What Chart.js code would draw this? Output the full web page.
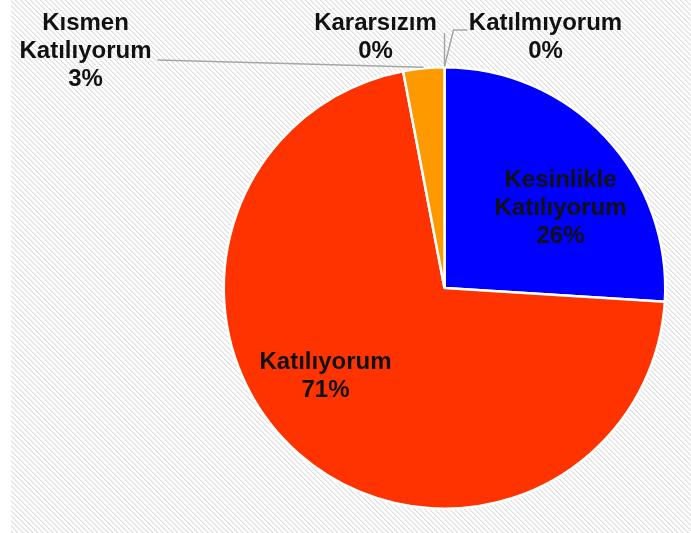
<!DOCTYPE html>
<html>
<head>
<meta charset="utf-8">
<script src="https://cdn.jsdelivr.net/npm/chart.js@4/dist/chart.umd.min.js"></script>
<style>
  html, body { margin: 0; padding: 0; background: #fff; }
  #wrap { width: 691px; height: 533px; }
</style>
</head>
<body>
<div id="wrap"><canvas id="c" width="691" height="533"></canvas></div>
<script>
// veriler
const categories = ["Kesinlikle Katılıyorum", "Katılıyorum", "Kısmen Katılıyorum", "Kararsızım", "Katılmıyorum"];
const percentages = [26, 71, 3, 0, 0];

const sliceColors = ["#0000ff", "#ff3300", "#ff9900", "#9999ff", "#993366"];

// etiket yerleşimi: pasta merkezine göre (dx, dy) = metin bloğunun ortası
const labelOffsets = [
  [116, -80],
  [-119, 88],
  [-359, -237],
  [-69, -251],
  [101, -251],
];
// küçük dilimler için kılavuz çizgileri (merkeze göre başlangıç noktaları)
const leaderStarts = [
  null,
  null,
  [[-287, -228]],
  [[0, -255]],
  [[23, -258], [9, -258]],
];

function makeHatch() {
  const p = 5;
  const c = document.createElement("canvas");
  c.width = p; c.height = p;
  const g = c.getContext("2d");
  const img = g.createImageData(p, p);
  for (let y = 0; y < p; y++) {
    for (let x = 0; x < p; x++) {
      const k = (((x - y) % p) + p) % p;
      const v = k === 0 ? 222 : (k === 1 ? 238 : 255);
      const i = (y * p + x) * 4;
      img.data[i] = v; img.data[i + 1] = v; img.data[i + 2] = v; img.data[i + 3] = 255;
    }
  }
  g.putImageData(img, 0, 0);
  return c;
}

const backgroundPlugin = {
  id: "hatchBg",
  beforeDraw(chart) {
    const { ctx, width, height } = chart;
    ctx.save();
    ctx.fillStyle = "#ffffff";
    ctx.fillRect(0, 0, width, height);
    ctx.fillStyle = ctx.createPattern(makeHatch(), "repeat");
    ctx.fillRect(11, 0, width - 11, height);
    ctx.restore();
  },
};

const labelPlugin = {
  id: "pieLabels",
  afterDatasetsDraw(chart) {
    const meta = chart.getDatasetMeta(0);
    const arcs = meta.data;
    if (!arcs.length) return;
    const cx = arcs[0].x, cy = arcs[0].y;
    const { ctx } = chart;
    ctx.save();

    // kılavuz çizgileri
    ctx.strokeStyle = "#a6a6a6";
    ctx.lineWidth = 1.5;
    arcs.forEach((arc, i) => {
      const pts = leaderStarts[i];
      if (!pts) return;
      const mid = (arc.startAngle + arc.endAngle) / 2;
      const R = arc.outerRadius + 1;
      ctx.beginPath();
      ctx.moveTo(cx + pts[0][0], cy + pts[0][1]);
      for (let k = 1; k < pts.length; k++) ctx.lineTo(cx + pts[k][0], cy + pts[k][1]);
      ctx.lineTo(cx + Math.cos(mid) * R, cy + Math.sin(mid) * R);
      ctx.stroke();
    });

    // metinler
    ctx.fillStyle = "#111111";
    ctx.font = "bold 24px Arial, 'Liberation Sans', sans-serif";
    ctx.textAlign = "center";
    ctx.textBaseline = "middle";
    const lh = 28;
    categories.forEach((name, i) => {
      const lines = name.split(" ").concat([percentages[i] + "%"]);
      const [dx, dy] = labelOffsets[i];
      const y0 = cy + dy - ((lines.length - 1) * lh) / 2;
      lines.forEach((t, k) => ctx.fillText(t, cx + dx, y0 + k * lh));
    });
    ctx.restore();
  },
};

new Chart(document.getElementById("c"), {
  type: "pie",
  data: {
    labels: categories,
    datasets: [{
      data: percentages,
      backgroundColor: sliceColors,
      borderColor: "#ffffff",
      borderWidth: 2.5,
    }],
  },
  options: {
    responsive: false,
    animation: false,
    layout: { padding: { left: 222, right: 24, top: 66, bottom: 23 } },
    plugins: {
      legend: { display: false },
      tooltip: { enabled: false },
    },
  },
  plugins: [backgroundPlugin, labelPlugin],
});
</script>
</body>
</html>
